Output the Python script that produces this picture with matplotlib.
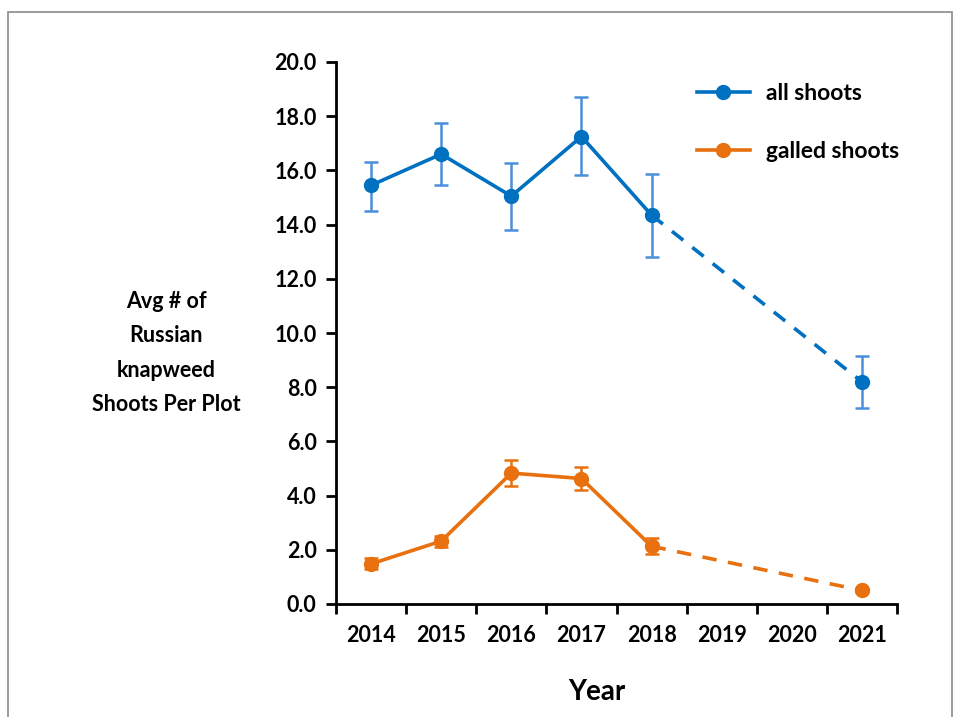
import matplotlib
matplotlib.use("Agg")
import matplotlib.pyplot as plt
from matplotlib.patches import Rectangle
import numpy as np

years = ["2014", "2015", "2016", "2017", "2018", "2019", "2020", "2021"]
obs_idx = [0, 1, 2, 3, 4, 7]

all_shoots = [15.45, 16.6, 15.05, 17.25, 14.35, 8.2]
all_lo = [14.5, 15.45, 13.8, 15.82, 12.8, 7.25]
all_hi = [16.32, 17.74, 16.29, 18.7, 15.87, 9.16]

galled = [1.48, 2.32, 4.83, 4.63, 2.13, 0.5]
galled_lo = [1.3, 2.12, 4.36, 4.22, 1.85, 0.45]
galled_hi = [1.68, 2.52, 5.32, 5.06, 2.45, 0.55]

yticks = [0, 2, 4, 6, 8, 10, 12, 14, 16, 18, 20]

BLUE = "#0070C0"
BLUE_ERR = "#4A8FDB"
ORANGE = "#E8700E"
FONT = ["Lato", "DejaVu Sans"]
plt.rcParams['font.family'] = FONT

W, H = 964, 717
fig = plt.figure(figsize=(W / 100, H / 100), dpi=100)
fig.patches.append(Rectangle((8 / W, -0.05), (952 - 8) / W, 1.05 - 12 / H,
                             transform=fig.transFigure, fill=False,
                             edgecolor="#8a8a8a", linewidth=1.2))

ax = fig.add_axes([336 / W, 1 - 604 / H, (897 - 336) / W, (604 - 62) / H])

x = np.array(obs_idx, dtype=float)

def draw(vals, lo, hi, color, ecolor, label):
    vals = np.array(vals); lo = np.array(lo); hi = np.array(hi)
    yerr = np.vstack([vals - lo, hi - vals])
    ax.errorbar(x, vals, yerr=yerr, fmt="none", ecolor=ecolor, elinewidth=1.8,
                capsize=5, capthick=1.8, zorder=2)
    ax.plot(x[:5], vals[:5], "-", color=color, linewidth=2.6, zorder=3)
    ax.plot(x[4:], vals[4:], "--", color=color, linewidth=2.6, dashes=(4, 3.2), zorder=3)
    ax.plot(x, vals, "o", color=color, markersize=10, zorder=4)
    ax.plot([], [], "-o", color=color, linewidth=2.6, markersize=10, label=label)

draw(all_shoots, all_lo, all_hi, BLUE, BLUE_ERR, "all shoots")
draw(galled, galled_lo, galled_hi, ORANGE, ORANGE, "galled shoots")

ax.set_xlim(-0.5, len(years) - 0.5)
ax.set_ylim(0, 20)
ax.set_yticks(yticks)
ax.set_yticklabels([f"{v:.1f}" for v in yticks])
ax.set_xticks(np.arange(len(years) + 1) - 0.5)
ax.set_xticklabels([])
ax.set_xticks(np.arange(len(years)), minor=True)
ax.set_xticklabels(years, minor=True)
ax.tick_params(axis="x", which="minor", length=0, pad=15, labelsize=15.5)
ax.tick_params(axis="x", which="major", length=7, width=2, direction="out")
ax.tick_params(axis="y", length=7, width=2, direction="out", labelsize=15.5, pad=7)
for lab in ax.get_xticklabels(minor=True) + ax.get_yticklabels():
    lab.set_fontweight("bold")
for s in ["top", "right"]:
    ax.spines[s].set_visible(False)
for s in ["left", "bottom"]:
    ax.spines[s].set_linewidth(2)

fig.text(597 / W, 1 - 692 / H, "Year", ha="center", va="center",
         fontsize=20, fontweight="bold")
fig.text(166 / W, 1 - 353 / H, "Avg # of\nRussian\nknapweed\nShoots Per Plot",
         ha="center", va="center", fontsize=15.5, fontweight="bold", linespacing=1.78)

leg = ax.legend(loc="upper left", bbox_to_anchor=((697 - 336) / (897 - 336), (604 - 83) / (604 - 62)),
                frameon=False, fontsize=16.5, handlelength=2.3, labelspacing=1.63,
                handletextpad=0.7, borderpad=0, borderaxespad=0)
for t in leg.get_texts():
    t.set_fontweight("bold")

fig.savefig("out.png", dpi=100)
